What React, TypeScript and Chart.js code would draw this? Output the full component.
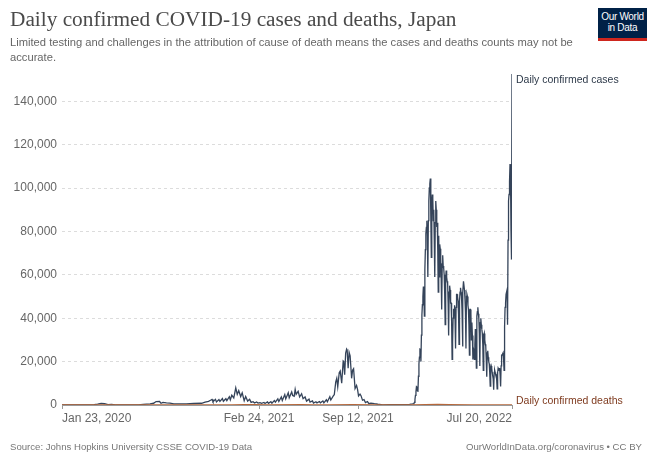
import React, { useEffect, useRef } from "react";
import { Chart, registerables } from "chart.js";

Chart.register(...registerables);

// ---------- DATA ----------
const startDate = "2020-01-23";
const tickDates = ["2020-01-23", "2021-02-24", "2021-09-12", "2022-07-20"];
const tickLabels = ["Jan 23, 2020", "Feb 24, 2021", "Sep 12, 2021", "Jul 20, 2022"];
const yTickValues = [0, 20000, 40000, 60000, 80000, 100000, 120000, 140000];

// Sparse readings (roughly twice a week around waves) for 2020-2021
const earlyCaseDates = [
  "2020-01-23", "2020-02-15", "2020-03-01", "2020-03-15", "2020-03-28", "2020-04-04", "2020-04-11", "2020-04-18",
  "2020-04-25", "2020-05-02", "2020-05-10", "2020-05-25", "2020-06-10", "2020-06-25", "2020-07-05", "2020-07-12",
  "2020-07-19", "2020-07-26", "2020-07-31", "2020-08-07", "2020-08-10", "2020-08-14", "2020-08-21", "2020-08-28",
  "2020-09-05", "2020-09-15", "2020-09-30", "2020-10-15", "2020-10-31", "2020-11-07", "2020-11-14", "2020-11-18",
  "2020-11-21", "2020-11-23", "2020-11-28", "2020-11-30", "2020-12-05", "2020-12-07", "2020-12-12", "2020-12-14",
  "2020-12-19", "2020-12-21", "2020-12-26", "2020-12-28", "2020-12-31",
  "2021-01-04", "2021-01-08", "2021-01-11", "2021-01-14", "2021-01-18", "2021-01-21", "2021-01-25", "2021-01-28",
  "2021-02-01", "2021-02-05", "2021-02-08", "2021-02-12", "2021-02-15", "2021-02-19", "2021-02-22", "2021-02-26",
  "2021-03-01", "2021-03-06", "2021-03-08", "2021-03-13", "2021-03-15", "2021-03-20", "2021-03-22", "2021-03-27",
  "2021-03-29", "2021-04-03", "2021-04-05", "2021-04-10", "2021-04-12", "2021-04-17", "2021-04-19", "2021-04-24",
  "2021-04-26", "2021-05-01", "2021-05-03", "2021-05-06", "2021-05-08", "2021-05-10", "2021-05-14", "2021-05-17",
  "2021-05-21", "2021-05-24", "2021-05-28", "2021-05-31", "2021-06-05", "2021-06-07", "2021-06-12", "2021-06-14",
  "2021-06-19", "2021-06-21", "2021-06-26", "2021-06-28", "2021-07-03", "2021-07-05", "2021-07-10", "2021-07-12",
  "2021-07-17", "2021-07-19", "2021-07-24", "2021-07-26", "2021-07-29", "2021-07-31", "2021-08-02", "2021-08-05",
  "2021-08-07", "2021-08-09", "2021-08-10", "2021-08-13", "2021-08-14", "2021-08-16", "2021-08-18", "2021-08-20",
  "2021-08-21", "2021-08-23", "2021-08-25", "2021-08-27", "2021-08-30", "2021-09-01", "2021-09-03", "2021-09-06",
  "2021-09-09", "2021-09-11", "2021-09-13", "2021-09-16", "2021-09-18", "2021-09-21", "2021-09-24", "2021-09-27",
  "2021-10-01", "2021-10-04", "2021-10-08", "2021-10-15", "2021-10-22", "2021-11-01", "2021-11-15", "2021-12-01",
  "2021-12-15", "2021-12-25", "2021-12-31",
];
const earlyCaseValues = [
  0, 10, 15, 30, 200, 370, 740, 580,
  180, 280, 60, 20, 40, 100, 270, 400,
  510, 800, 1580, 1600, 800, 1200, 1000, 850,
  500, 550, 500, 700, 800, 1300, 1700, 2200,
  2600, 1500, 2600, 1400, 2500, 1700, 3000, 1700,
  2900, 2000, 3800, 2400, 4500,
  3300, 7900, 4900, 6600, 3900, 5600, 2000, 3900,
  1800, 2600, 1200, 1500, 900, 1400, 900, 1100,
  800, 1200, 700, 1400, 800, 1500, 800, 2000,
  1300, 2800, 1600, 3700, 2100, 4800, 2800, 5600,
  3300, 6000, 4400, 4000, 7200, 4900, 6300, 3700,
  5200, 2900, 3700, 1800, 2700, 1300, 1900, 900,
  1500, 1000, 1600, 1000, 1900, 1000, 2400, 1500,
  3800, 2300, 4200, 4700, 10700, 12300, 8400, 14900,
  15700, 12000, 10000, 20300, 20100, 14000, 23900, 25800,
  25400, 16900, 24300, 22700, 12300, 16000, 16700, 7600,
  9000, 7200, 4200, 5000, 4300, 2200, 2500, 1100,
  1600, 600, 900, 600, 350, 100, 150, 120,
  180, 300, 500,
];

// Daily readings from 1 Jan 2022 to 20 Jul 2022
const dailyCaseStart = "2022-01-01";
const dailyCases2022 = [
  // January
  534, 553, 781, 1266, 2638, 4475, 6214, 8480, 8249, 6438, 6378, 13244, 18860, 22045, 25742, 25630,
  20000, 32197, 41485, 46199, 49854, 54576, 50000, 41000, 62613, 71633, 78930, 81822, 84941, 78000, 59000,
  // February
  85000, 94000, 100000, 102000, 104400, 87000, 68000, 93000, 97000, 95000, 85000, 90000, 76000, 59000,
  84000, 94000, 90000, 82000, 84000, 72000, 52000, 78000, 59000, 74000, 72000, 68000, 58000, 44000,
  // March
  65000, 69000, 64000, 63000, 60000, 52000, 37000, 58000, 62000, 59000, 57000, 56000, 47000, 32000, 52000,
  55000, 53000, 47000, 47000, 39000, 21000, 29000, 40000, 44000, 44000, 46000, 39000, 26000, 45000, 51000, 51000,
  // April
  50000, 48000, 42000, 28000, 48000, 52000, 54000, 52000, 50000, 44000, 27000, 52000, 57000, 57000, 53000,
  49000, 43000, 26000, 50000, 51000, 50000, 46000, 44000, 37000, 23000, 44000, 44000, 42000, 30000, 38000,
  // May
  32000, 21000, 26000, 25000, 21000, 28000, 35000, 30000, 17000, 41000, 43000, 45000, 42000, 40000, 33000,
  18000, 38000, 40000, 37000, 35000, 33000, 28000, 16000, 32000, 33000, 30000, 28000, 27000, 21000, 13000, 24000,
  // June
  25000, 22000, 20000, 19000, 15000, 8700, 17000, 18000, 17000, 15000, 15000, 12000, 7000, 15000, 16000,
  15000, 14000, 14000, 12000, 7400, 15000, 17000, 17000, 16000, 17000, 14000, 8500, 18000, 23000, 23000,
  // July
  23000, 24000, 21000, 16000, 36000, 45000, 47000, 51000, 51000, 53000, 37000, 76000, 94000, 97000, 103000,
  111000, 105000, 80000, 67000, 152500,
];

const deathDates = [
  "2020-01-23", "2020-04-20", "2020-05-01", "2020-06-01", "2020-08-20", "2020-10-01", "2020-12-01", "2020-12-31",
  "2021-01-25", "2021-02-15", "2021-03-15", "2021-05-20", "2021-06-15", "2021-07-15", "2021-09-01", "2021-10-15",
  "2021-12-01", "2022-01-01", "2022-02-20", "2022-03-15", "2022-05-01", "2022-06-15", "2022-07-20",
];
const deathValues = [
  0, 20, 20, 2, 12, 8, 30, 50,
  100, 70, 30, 120, 40, 10, 60, 15,
  1, 1, 270, 150, 40, 15, 40,
];

// ---------- HELPERS ----------
const DAY_MS = 86400000;
const dayOf = (d: string) => Math.round((Date.parse(d) - Date.parse(startDate)) / DAY_MS);
const tickDays = tickDates.map(dayOf);

const casePoints = [
  ...earlyCaseDates.map((d, i) => ({ x: dayOf(d), y: earlyCaseValues[i] })),
  ...dailyCases2022.map((v, i) => ({ x: dayOf(dailyCaseStart) + i, y: v })),
];
const deathPoints = deathDates.map((d, i) => ({ x: dayOf(d), y: deathValues[i] }));

const CASE_COLOR = "#35445a";
const DEATH_COLOR = "#b5683c";
const SANS = "'Liberation Sans', Arial, sans-serif";

const endLabels = {
  id: "endLabels",
  afterDatasetsDraw(chart: any) {
    const ctx = chart.ctx;
    ctx.save();
    ctx.font = `10.5px ${SANS}`;
    ctx.textAlign = "left";
    const right = chart.chartArea.right;
    chart.data.datasets.forEach((ds: any, i: number) => {
      const meta = chart.getDatasetMeta(i);
      const last = meta.data[meta.data.length - 1];
      if (!last) return;
      ctx.fillStyle = ds.labelColor;
      if (i === 0) {
        ctx.textBaseline = "top";
        ctx.fillText(ds.label, right + 4, last.y + 1);
      } else {
        ctx.textBaseline = "bottom";
        ctx.fillText(ds.label, right + 4, last.y + 1);
      }
    });
    ctx.restore();
  },
};

export default function App() {
  const ref = useRef<HTMLCanvasElement | null>(null);

  useEffect(() => {
    if (!ref.current) return;
    const chart = new Chart(ref.current, {
      type: "line",
      data: {
        datasets: [
          {
            label: "Daily confirmed cases",
            data: casePoints,
            borderColor: CASE_COLOR,
            borderWidth: 1.3,
            pointRadius: 0,
            tension: 0,
            order: 1,
            labelColor: "#2e3a4a",
          } as any,
          {
            label: "Daily confirmed deaths",
            data: deathPoints,
            borderColor: DEATH_COLOR,
            borderWidth: 1.5,
            pointRadius: 0,
            tension: 0,
            order: 0,
            labelColor: "#7e3a1e",
          } as any,
        ],
      },
      options: {
        animation: false,
        responsive: false,
        devicePixelRatio: 1,
        layout: { padding: { left: 0, right: 146, top: 73, bottom: 39 } },
        plugins: {
          legend: { display: false },
          tooltip: { enabled: false },
        },
        scales: {
          x: {
            type: "linear",
            min: 0,
            max: tickDays[tickDays.length - 1],
            afterBuildTicks: (s: any) => {
              s.ticks = tickDays.map((v) => ({ value: v }));
            },
            afterFit: (s: any) => {
              s.height = 20;
            },
            ticks: {
              autoSkip: false,
              maxRotation: 0,
              align: "inner",
              padding: 2,
              color: "#666",
              font: { family: SANS, size: 12 },
              callback: (v: any) => tickLabels[tickDays.indexOf(Number(v))] ?? "",
            },
            grid: { drawOnChartArea: false, drawTicks: true, tickLength: 4, color: "#999" },
            border: { display: true, color: "#999" },
          },
          y: {
            min: 0,
            max: 153000,
            afterBuildTicks: (s: any) => {
              s.ticks = yTickValues.map((v) => ({ value: v }));
            },
            afterFit: (s: any) => {
              s.width = 62;
            },
            ticks: {
              padding: 5,
              color: "#666",
              font: { family: SANS, size: 12 },
              callback: (v: any) => Number(v).toLocaleString("en-US"),
            },
            grid: {
              drawTicks: false,
              color: (c: any) => (c.tick && c.tick.value === 0 ? "rgba(0,0,0,0)" : "#dcdcdc"),
            },
            border: { display: false, dash: [3, 3] },
          },
        },
      } as any,
      plugins: [endLabels],
    });
    return () => chart.destroy();
  }, []);

  return (
    <div
      style={{
        position: "fixed",
        left: 0,
        top: 0,
        width: 658,
        height: 464,
        background: "#fff",
        overflow: "hidden",
      }}
    >
      <canvas ref={ref} width={658} height={464} style={{ position: "absolute", left: 0, top: 0 }} />
      <div
        style={{
          position: "absolute",
          left: 10,
          top: 9,
          fontFamily: "'Liberation Serif', 'Times New Roman', serif",
          fontSize: 21.3,
          lineHeight: "21px",
          color: "#4a4a4a",
          whiteSpace: "nowrap",
        }}
      >
        Daily confirmed COVID-19 cases and deaths, Japan
      </div>
      <div
        style={{
          position: "absolute",
          left: 10,
          top: 35,
          fontFamily: SANS,
          fontSize: 11.2,
          lineHeight: "15px",
          color: "#666",
          whiteSpace: "nowrap",
        }}
      >
        Limited testing and challenges in the attribution of cause of death means the cases and deaths counts may not be
        <br />
        accurate.
      </div>
      <div
        style={{
          position: "absolute",
          left: 598,
          top: 8,
          width: 49,
          height: 27,
          background: "#002147",
          borderBottom: "3px solid #ce261e",
          color: "#fff",
          fontFamily: SANS,
          fontSize: 10,
          lineHeight: "11px",
          textAlign: "center",
          paddingTop: 3,
          boxSizing: "content-box",
          letterSpacing: -0.3,
          whiteSpace: "nowrap",
        }}
      >
        Our World
        <br />
        in Data
      </div>
      <div
        style={{
          position: "absolute",
          left: 10,
          top: 441,
          fontFamily: SANS,
          fontSize: 9.6,
          lineHeight: "12px",
          color: "#777",
          whiteSpace: "nowrap",
        }}
      >
        Source: Johns Hopkins University CSSE COVID-19 Data
      </div>
      <div
        style={{
          position: "absolute",
          left: 466,
          top: 441,
          fontFamily: SANS,
          fontSize: 9.6,
          lineHeight: "12px",
          color: "#777",
          whiteSpace: "nowrap",
        }}
      >
        OurWorldInData.org/coronavirus • CC BY
      </div>
    </div>
  );
}
